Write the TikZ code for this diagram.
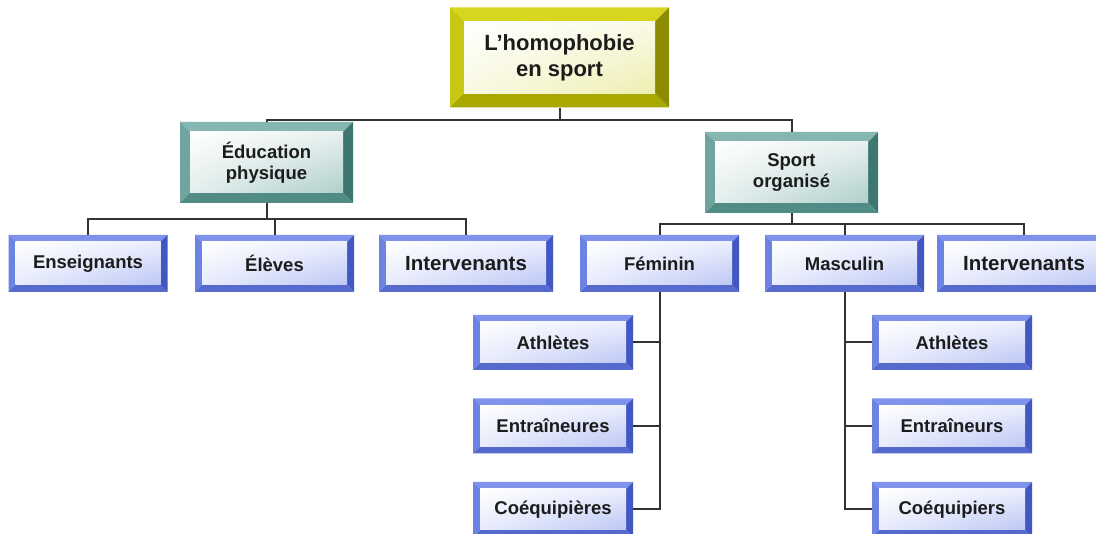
\documentclass[tikz,border=0pt]{standalone}
\usepackage{fontspec}
\setmainfont{Liberation Sans}
\usetikzlibrary{calc,shadings}
\definecolor{ytop}{HTML}{D6D61E}
\definecolor{yleft}{HTML}{C8C812}
\definecolor{yright}{HTML}{8C8C00}
\definecolor{ybot}{HTML}{A8A800}
\definecolor{ytint}{HTML}{EEEEB0}
\definecolor{ttop}{HTML}{86B6B1}
\definecolor{tleft}{HTML}{6FA49F}
\definecolor{tright}{HTML}{3E7772}
\definecolor{tbot}{HTML}{508B86}
\definecolor{ttint}{HTML}{AFCFCB}
\definecolor{btop}{HTML}{7E93EC}
\definecolor{bleft}{HTML}{6D83E4}
\definecolor{bright}{HTML}{4357C2}
\definecolor{bbot}{HTML}{566ACE}
\definecolor{btint}{HTML}{BCC7F5}
\definecolor{linec}{HTML}{333333}
\definecolor{txt}{HTML}{1C1C1C}
\tikzset{
  bvw/.store in=\bvw, bvtop/.store in=\bvtop, bvleft/.store in=\bvleft,
  bvright/.store in=\bvright, bvbot/.store in=\bvbot, bvtint/.store in=\bvtint,
  bevbox/.style={rectangle, inner sep=0pt, align=center, text=txt,
    path picture={
      \fill[\bvtop] (path picture bounding box.north west) -- (path picture bounding box.north east)
        -- ([shift={(-\bvw,-\bvw)}]path picture bounding box.north east)
        -- ([shift={(\bvw,-\bvw)}]path picture bounding box.north west) -- cycle;
      \fill[\bvleft] (path picture bounding box.north west) -- (path picture bounding box.south west)
        -- ([shift={(\bvw,\bvw)}]path picture bounding box.south west)
        -- ([shift={(\bvw,-\bvw)}]path picture bounding box.north west) -- cycle;
      \fill[\bvright] (path picture bounding box.north east) -- (path picture bounding box.south east)
        -- ([shift={(-\bvw,\bvw)}]path picture bounding box.south east)
        -- ([shift={(-\bvw,-\bvw)}]path picture bounding box.north east) -- cycle;
      \fill[\bvbot] (path picture bounding box.south west) -- (path picture bounding box.south east)
        -- ([shift={(-\bvw,\bvw)}]path picture bounding box.south east)
        -- ([shift={(\bvw,\bvw)}]path picture bounding box.south west) -- cycle;
      \shade[upper left=white, upper right=white!70!\bvtint, lower left=white!65!\bvtint, lower right=\bvtint]
        ([shift={(\bvw,\bvw)}]path picture bounding box.south west) rectangle
        ([shift={(-\bvw,-\bvw)}]path picture bounding box.north east);
    }},
  yellowbox/.style={bevbox, bvw=14pt, bvtop=ytop, bvleft=yleft, bvright=yright, bvbot=ybot, bvtint=ytint,
    minimum width=219pt, minimum height=100pt, font=\fontsize{22}{26}\selectfont\bfseries},
  tealbox/.style={bevbox, bvw=10pt, bvtop=ttop, bvleft=tleft, bvright=tright, bvbot=tbot, bvtint=ttint,
    minimum width=173pt, minimum height=81pt, font=\fontsize{18.5}{21}\selectfont\bfseries},
  bluebox/.style={bevbox, bvw=7pt, bvtop=btop, bvleft=bleft, bvright=bright, bvbot=bbot, bvtint=btint,
    minimum height=57pt, minimum width=159pt, font=\fontsize{18.5}{21}\selectfont\bfseries},
  leafbox/.style={bluebox, minimum width=160pt, minimum height=55pt},
  bigtext/.style={font=\fontsize{20.5}{23}\selectfont\bfseries},
  conn/.style={draw=linec, line width=2pt},
}
\begin{document}
\begin{tikzpicture}[x=1pt,y=1pt]
\clip (0,0) rectangle (1096,-534);
\fill[white] (0,0) rectangle (1096,-534);
% nodes
\node[yellowbox] (top) at (559.5,-57.5) {L’homophobie\\en sport};
\node[tealbox] (edu) at (266.5,-162.5) {Éducation\\physique};
\node[tealbox] (sport) at (791.5,-172.5) {Sport\\organisé};
\node[bluebox] (ens) at (88,-263.5) {Enseignants};
\node[bluebox] (ele) at (274.5,-263.5) {Élèves};
\node[bluebox, bigtext, minimum width=174pt] (intl) at (466,-263.5) {Intervenants};
\node[bluebox] (fem) at (659.5,-263.5) {Féminin};
\node[bluebox] (mas) at (844.5,-263.5) {Masculin};
\node[bluebox, bigtext, minimum width=174pt] (intr) at (1024,-263.5) {Intervenants};
\node[leafbox] (fath) at (553,-342.5) {Athlètes};
\node[leafbox] (fent) at (553,-426) {Entraîneures};
\node[leafbox] (fcoe) at (553,-509.5) {Coéquipières};
\node[leafbox] (math) at (952,-342.5) {Athlètes};
\node[leafbox] (ment) at (952,-426) {Entraîneurs};
\node[leafbox] (mcoe) at (952,-509.5) {Coéquipiers};
% connectors
\coordinate (j0) at ($(top.south)+(0,-12)$);
\draw[conn] (top.south) -- (j0);
\draw[conn] (edu.north) |- (j0) -| (sport.north);
\coordinate (j1) at ($(edu.south)+(0,-16)$);
\draw[conn] (edu.south) -- (j1);
\draw[conn] (ens.north) |- (j1) -| (intl.north);
\draw[conn] (ele.north) -- (ele.north |- j1);
\coordinate (j2) at ($(sport.south)+(0,-11)$);
\draw[conn] (sport.south) -- (j2);
\draw[conn] (fem.north) |- (j2) -| (intr.north);
\draw[conn] (mas.north) -- (mas.north |- j2);
\draw[conn] (fem.south) |- (fcoe.east);
\draw[conn] (fath.east) -- (fath.east -| fem.south);
\draw[conn] (fent.east) -- (fent.east -| fem.south);
\draw[conn] (mas.south) |- (mcoe.west);
\draw[conn] (math.west) -- (math.west -| mas.south);
\draw[conn] (ment.west) -- (ment.west -| mas.south);
\end{tikzpicture}
\end{document}
